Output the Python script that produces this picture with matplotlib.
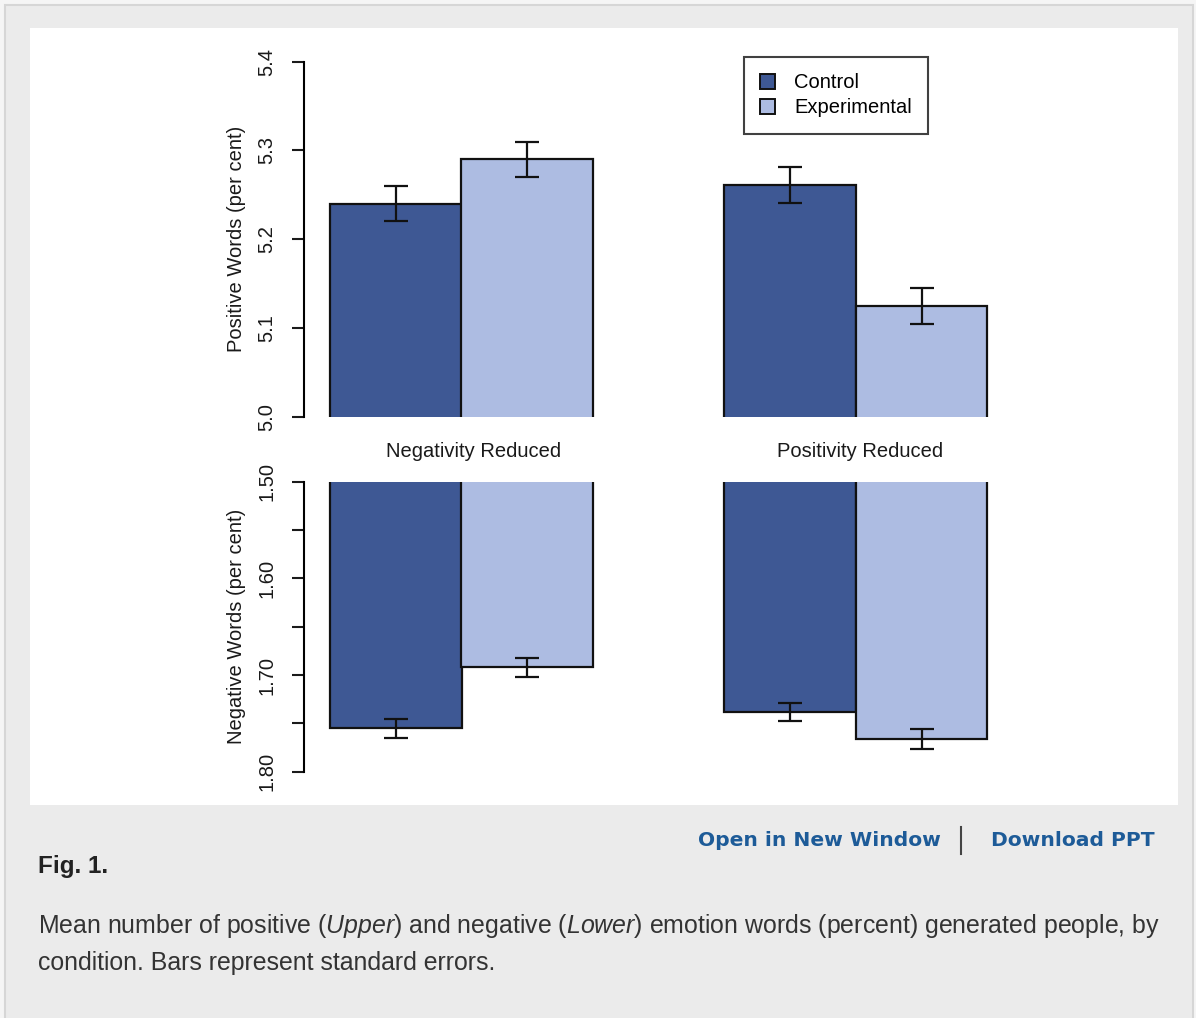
import matplotlib
matplotlib.use("Agg")
import matplotlib.pyplot as plt
from matplotlib.patches import Rectangle
from matplotlib.lines import Line2D
import numpy as np

# Data
conditions = ["Negativity Reduced", "Positivity Reduced"]
groups = ["Control", "Experimental"]
positive_mean = {"Control": [5.240, 5.261], "Experimental": [5.290, 5.125]}
positive_se = {"Control": [0.020, 0.020], "Experimental": [0.020, 0.020]}
negative_mean = {"Control": [1.755, 1.738], "Experimental": [1.692, 1.766]}
negative_se = {"Control": [0.010, 0.0095], "Experimental": [0.010, 0.010]}
pos_ticks = [5.0, 5.1, 5.2, 5.3, 5.4]
neg_ticks = [1.50, 1.55, 1.60, 1.65, 1.70, 1.75, 1.80]
neg_tick_labels = ["1.50", "", "1.60", "", "1.70", "", "1.80"]

colors = {"Control": "#3e5894", "Experimental": "#adbce2"}

W, H = 1196, 1018
FS = 14.5
plt.rcParams["font.family"] = ["Liberation Sans", "DejaVu Sans"]
plt.rcParams["mathtext.fontset"] = "custom"
plt.rcParams["mathtext.rm"] = "Liberation Sans"
plt.rcParams["mathtext.it"] = "Liberation Sans:italic"
fig = plt.figure(figsize=(W / 100, H / 100), dpi=100)
fig.patch.set_facecolor("#f5f5f5")


def fx(x):
    return x / W


def fy(y):
    return 1 - y / H


# page frame and white figure panel
fig.patches.append(Rectangle((fx(5), fy(1030)), fx(1193) - fx(5), fy(5) - fy(1030),
                             transform=fig.transFigure, facecolor="#ebebeb",
                             edgecolor="#d6d6d6", lw=1.5, zorder=-20))
fig.patches.append(Rectangle((fx(30), fy(805)), fx(1178) - fx(30), fy(28) - fy(805),
                             transform=fig.transFigure, facecolor="white",
                             edgecolor="none", zorder=-10))

# bar layout: R-style barplot, space=c(0,1)
lefts = {"Control": np.array([1.0, 4.0]), "Experimental": np.array([2.0, 5.0])}
xlim = (0.8, 6.2)
ax_left, ax_right = 303.7, 1013.8


def make_axes(top_px, bottom_px):
    ax = fig.add_axes([fx(ax_left), fy(bottom_px), fx(ax_right) - fx(ax_left),
                       fy(top_px) - fy(bottom_px)])
    ax.set_facecolor("none")
    for s in ["top", "right", "bottom"]:
        ax.spines[s].set_visible(False)
    ax.spines["left"].set_linewidth(1.5)
    ax.set_xlim(*xlim)
    ax.tick_params(axis="y", length=8.6, width=1.5, pad=11, labelsize=FS,
                   labelrotation=90, colors="#1a1a1a")
    return ax


def draw_bars(ax, means, ses):
    for g in groups:
        ax.bar(lefts[g], means[g], width=1.0, align="edge", color=colors[g],
               edgecolor="#111111", linewidth=1.6, zorder=2)
        ax.errorbar(lefts[g] + 0.5, means[g], yerr=ses[g], fmt="none",
                    ecolor="#111111", elinewidth=1.6, capsize=8.7,
                    capthick=1.6, zorder=3)


# upper panel: positive words
ax1 = make_axes(61.7, 416.7)
draw_bars(ax1, positive_mean, positive_se)
ax1.set_ylim(5.0, 5.4)
ax1.set_yticks(pos_ticks)
ax1.set_yticklabels([f"{t:.1f}" for t in pos_ticks], va="center")
ax1.set_xticks([2.09, 5.03])
ax1.set_xticklabels(conditions, fontsize=FS, color="#1a1a1a")
ax1.tick_params(axis="x", length=0, pad=18)
ax1.set_ylabel("Positive Words (per cent)", fontsize=FS, color="#1a1a1a", labelpad=8)

# legend
handles = [Rectangle((0, 0), 1, 1, facecolor=colors[g], edgecolor="#111111", lw=1.4)
           for g in groups]
leg = ax1.legend(handles, groups, loc="upper left",
                 bbox_to_anchor=((744 - ax_left) / (ax_right - ax_left),
                                 1 - (57.3 - 61.7) / (416.7 - 61.7)),
                 fontsize=FS, frameon=True, fancybox=False, handlelength=0.75,
                 handleheight=0.75, handletextpad=0.95, borderpad=0.8,
                 labelspacing=0.3, borderaxespad=0)
leg.get_frame().set_edgecolor("#111111")
leg.get_frame().set_linewidth(1.5)

# lower panel: negative words (inverted axis)
ax2 = make_axes(481.7, 771.7)
draw_bars(ax2, negative_mean, negative_se)
ax2.set_ylim(1.80, 1.50)
ax2.set_yticks(neg_ticks)
ax2.set_yticklabels(neg_tick_labels, va="center")
ax2.set_xticks([])
ax2.set_ylabel("Negative Words (per cent)", fontsize=FS, color="#1a1a1a", labelpad=8)

# caption area
link_color = "#1d5b98"
fig.text(fx(698), fy(841), "Open in New Window", fontsize=14.6, fontweight="bold",
         color=link_color, family="DejaVu Sans", va="center", ha="left")
fig.text(fx(1155), fy(841), "Download PPT", fontsize=14.6, fontweight="bold",
         color=link_color, family="DejaVu Sans", va="center", ha="right")
fig.add_artist(Line2D([fx(961), fx(961)], [fy(827), fy(854)], color="#444444", lw=1.5))
fig.text(fx(38), fy(866), "Fig. 1.", fontsize=17.5, fontweight="bold",
         color="#222222", va="center", ha="left")
fig.text(fx(38), fy(926),
         r"Mean number of positive ($\mathit{Upper}$) and negative ($\mathit{Lower}$) "
         r"emotion words (percent) generated people, by",
         fontsize=17.95, color="#333333", va="center", ha="left")
fig.text(fx(38), fy(963), "condition. Bars represent standard errors.",
         fontsize=17.95, color="#333333", va="center", ha="left")

fig.savefig("out.png", dpi=100, facecolor=fig.get_facecolor())
